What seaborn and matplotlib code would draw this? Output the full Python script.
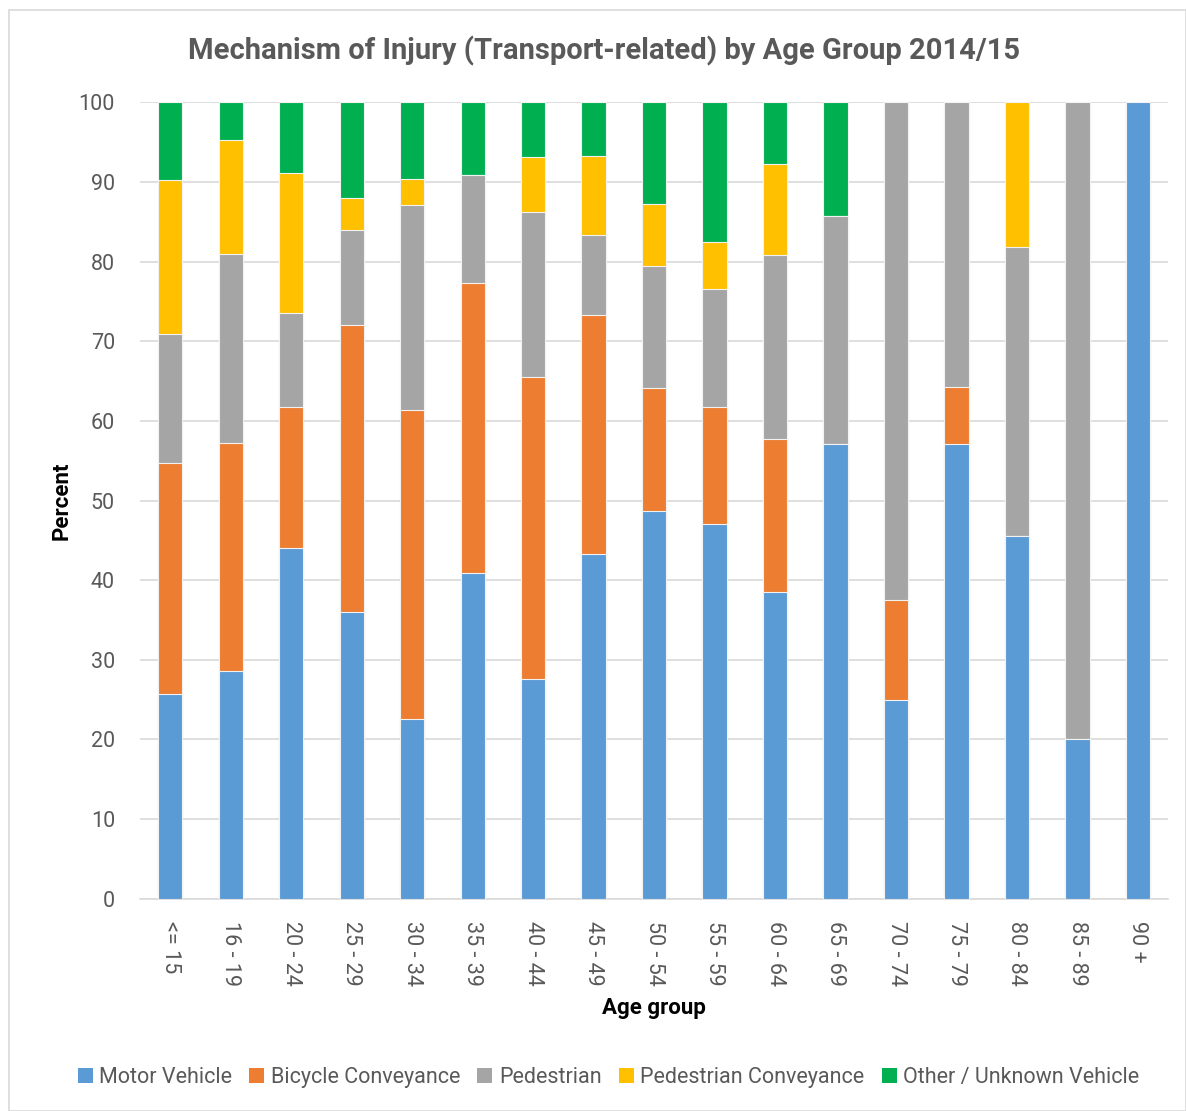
import numpy as np
import pandas as pd
import matplotlib
matplotlib.use("Agg")
import matplotlib.pyplot as plt
from matplotlib.patches import Patch, Rectangle
import seaborn as sns

# --- Data (percent of transport-related injuries per age group) ---
AGE_GROUPS = ['<= 15', '16 - 19', '20 - 24', '25 - 29', '30 - 34', '35 - 39',
              '40 - 44', '45 - 49', '50 - 54', '55 - 59', '60 - 64', '65 - 69',
              '70 - 74', '75 - 79', '80 - 84', '85 - 89', '90 +']
motor_vehicle = [25.7, 28.6, 44.1, 36.0, 22.6, 40.9, 27.6, 43.3, 48.7, 47.1, 38.5, 57.1, 25.0, 57.1, 45.5, 20.0, 100.0]
bicycle_conv = [29.0, 28.6, 17.6, 36.0, 38.7, 36.4, 37.9, 30.0, 15.4, 14.7, 19.2, 0.0, 12.5, 7.2, 0.0, 0.0, 0.0]
pedestrian = [16.2, 23.8, 11.8, 12.0, 25.8, 13.6, 20.7, 10.0, 15.4, 14.7, 23.1, 28.6, 62.5, 35.7, 36.3, 80.0, 0.0]
pedestrian_conv = [19.3, 14.3, 17.6, 4.0, 3.2, 0.0, 6.9, 10.0, 7.7, 5.9, 11.5, 0.0, 0.0, 0.0, 18.2, 0.0, 0.0]
other_unknown = [9.8, 4.7, 8.9, 12.0, 9.7, 9.1, 6.9, 6.7, 12.8, 17.6, 7.7, 14.3, 0.0, 0.0, 0.0, 0.0, 0.0]

SERIES = ['Motor Vehicle', 'Bicycle Conveyance', 'Pedestrian',
          'Pedestrian Conveyance', 'Other / Unknown Vehicle']
COLORS = ['#5B9BD5', '#ED7D31', '#A5A5A5', '#FFC000', '#00B050']

TEXT_GREY = '#595959'

sns.set_style("white")
plt.rcParams['font.family'] = ['Roboto', 'DejaVu Sans']

df = pd.DataFrame({
    'age': AGE_GROUPS,
    SERIES[0]: motor_vehicle,
    SERIES[1]: bicycle_conv,
    SERIES[2]: pedestrian,
    SERIES[3]: pedestrian_conv,
    SERIES[4]: other_unknown,
})

# cumulative totals so that bars can be layered from the top down
cum = df[SERIES].cumsum(axis=1)

fig = plt.figure(figsize=(11.86, 11.11), dpi=100)
ax = fig.add_axes([0.118, 0.191, 0.867, 0.717])

for name, color in reversed(list(zip(SERIES, COLORS))):
    sns.barplot(x=df['age'], y=cum[name], color=color, saturation=1,
                width=0.4, edgecolor='#f2f2f2', linewidth=0.8, ax=ax, zorder=3)

ax.set_ylim(0, 100)
ax.set_xlim(-0.5, len(AGE_GROUPS) - 0.5)
ax.set_yticks(np.arange(0, 101, 10))
ax.yaxis.grid(True, color='#D9D9D9', linewidth=1.2, zorder=0)
ax.set_axisbelow(True)
for side in ['top', 'right', 'left']:
    ax.spines[side].set_visible(False)
ax.spines['bottom'].set_color('#D9D9D9')
ax.spines['bottom'].set_linewidth(1.2)
ax.tick_params(axis='y', length=0, pad=18, labelsize=15.5, labelcolor=TEXT_GREY)
ax.tick_params(axis='x', length=0, pad=16, labelsize=15.5, labelcolor=TEXT_GREY,
               labelrotation=270)

ax.set_ylabel('Percent', fontsize=16, fontweight='bold', color='black', labelpad=4)
ax.set_xlabel('Age group', fontsize=16, fontweight='bold', color='black', labelpad=8)

fig.text(0.509, 0.954, 'Mechanism of Injury (Transport-related) by Age Group 2014/15',
         ha='center', va='center', fontsize=21, fontweight='bold', color=TEXT_GREY)

handles = [Patch(facecolor=c, edgecolor='none', label=s) for s, c in zip(SERIES, COLORS)]
fig.legend(handles=handles, loc='center', bbox_to_anchor=(0.513, 0.03), ncol=5,
           frameon=False, fontsize=15.5, handlelength=0.7, handleheight=0.7,
           handletextpad=0.3, columnspacing=0.8, labelcolor=TEXT_GREY)

# thin border round the whole chart area
fig.patches.append(Rectangle((0.008, 0.0), 0.992, 0.991, transform=fig.transFigure,
                             fill=False, edgecolor='#D9D9D9', linewidth=1.2))

fig.savefig('out.png', dpi=100)
